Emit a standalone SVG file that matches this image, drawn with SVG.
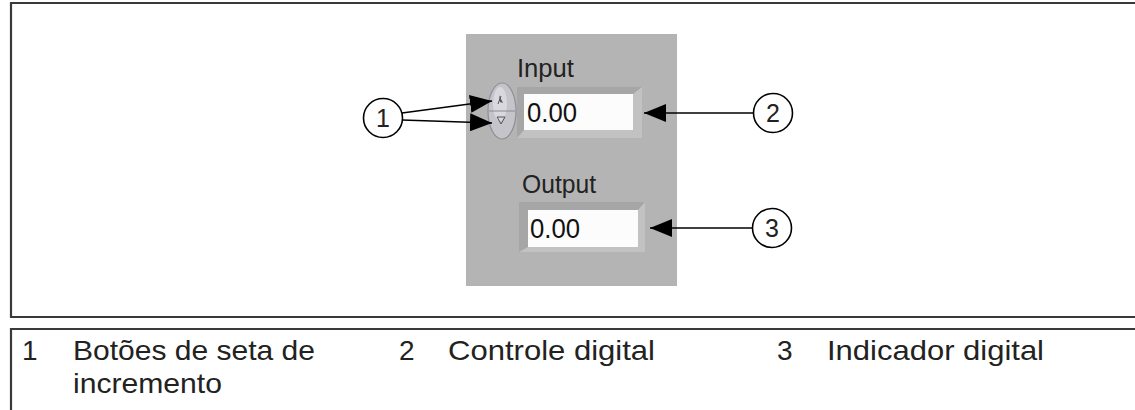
<svg xmlns="http://www.w3.org/2000/svg" width="1135" height="410" viewBox="0 0 1135 410">
<style>
.frame{fill:none;stroke:#3a3a3a;stroke-width:2.2}
.lbl{font-family:"Liberation Sans",Arial,sans-serif;font-size:25px;fill:#222}
.num{font-family:"Liberation Sans",Arial,sans-serif;font-size:28px;fill:#111}
.leg{font-family:"Liberation Sans",Arial,sans-serif;font-size:28px;fill:#222}
.call{fill:#fff;stroke:#000;stroke-width:1.6}
.ctext{font-family:"Liberation Sans",Arial,sans-serif;font-size:25px;fill:#222;text-anchor:middle}
.conn{fill:none;stroke:#000;stroke-width:1.6}
</style>
<defs>
<marker id="ah" viewBox="0 0 22 18" refX="22" refY="9" markerWidth="22" markerHeight="18" markerUnits="userSpaceOnUse" orient="auto">
<path d="M0,0 L22,9 L0,18 Z" fill="#000"/>
</marker>
</defs>
<rect width="1135" height="410" fill="#fff"/>
<g id="frames">
<path class="frame" d="M1135,3 H11 V317 H1135"/>
<path class="frame" d="M1135,329 H11 V410"/>
</g>
<g id="panel">
<rect x="466" y="34" width="211" height="252" fill="#b4b4b4"/>
</g>
<g id="input-control">
<text class="lbl" x="517" y="77" textLength="57" lengthAdjust="spacingAndGlyphs">Input</text>
<rect x="517" y="87" width="125" height="51" fill="#a6a6a6"/>
<path d="M517,138 L524,130 H633 V94 L642,87 V138 Z" fill="#c2c2c2"/>
<rect x="524" y="94" width="109" height="36" fill="#fcfcfc"/>
<text class="num" x="527" y="122" textLength="50" lengthAdjust="spacingAndGlyphs">0.00</text>
<ellipse cx="502" cy="111" rx="14" ry="28" fill="#c4c4ca" stroke="#8e8e94" stroke-width="1.2"/>
<ellipse cx="500" cy="104" rx="7" ry="17" fill="#d8d8de"/>
<line x1="489" y1="111" x2="515" y2="111" stroke="#8a8a90" stroke-width="1"/>
<path d="M499,95 L503,103 L500,102 Z" fill="#555"/>
<path d="M498,104 L501,96" stroke="#555" stroke-width="1"/>
<path d="M497,117 H505 L501,124 Z" fill="none" stroke="#555" stroke-width="1"/>
</g>
<g id="output-indicator">
<text class="lbl" x="522" y="193" textLength="74" lengthAdjust="spacingAndGlyphs">Output</text>
<rect x="519" y="202" width="126" height="50" fill="#a6a6a6"/>
<path d="M519,252 L528,247 H638 V210 L645,202 V252 Z" fill="#c2c2c2"/>
<rect x="528" y="210" width="110" height="37" fill="#fcfcfc"/>
<text class="num" x="530" y="238" textLength="50" lengthAdjust="spacingAndGlyphs">0.00</text>
</g>
<g id="callout-1">
<circle class="call" cx="383" cy="118" r="19.5"/>
<text class="ctext" x="383" y="127">1</text>
</g>
<g id="callout-2">
<circle class="call" cx="773" cy="113" r="19.5"/>
<text class="ctext" x="773" y="122">2</text>
</g>
<g id="callout-3">
<circle class="call" cx="772" cy="228" r="19.5"/>
<text class="ctext" x="772" y="237">3</text>
</g>
<g id="connectors">
<path class="conn" d="M402,113 L492,101" marker-end="url(#ah)"/>
<path class="conn" d="M402,120 L492,123" marker-end="url(#ah)"/>
<path class="conn" d="M753,113 H644" marker-end="url(#ah)"/>
<path class="conn" d="M752,228 H650" marker-end="url(#ah)"/>
</g>
<g id="legend">
<text class="leg" x="22" y="360">1</text>
<text class="leg" x="73" y="360" textLength="242" lengthAdjust="spacingAndGlyphs">Botões de seta de</text>
<text class="leg" x="73" y="393" textLength="149" lengthAdjust="spacingAndGlyphs">incremento</text>
<text class="leg" x="399" y="360">2</text>
<text class="leg" x="448" y="360" textLength="207" lengthAdjust="spacingAndGlyphs">Controle digital</text>
<text class="leg" x="777" y="360">3</text>
<text class="leg" x="827" y="360" textLength="217" lengthAdjust="spacingAndGlyphs">Indicador digital</text>
</g>
</svg>
